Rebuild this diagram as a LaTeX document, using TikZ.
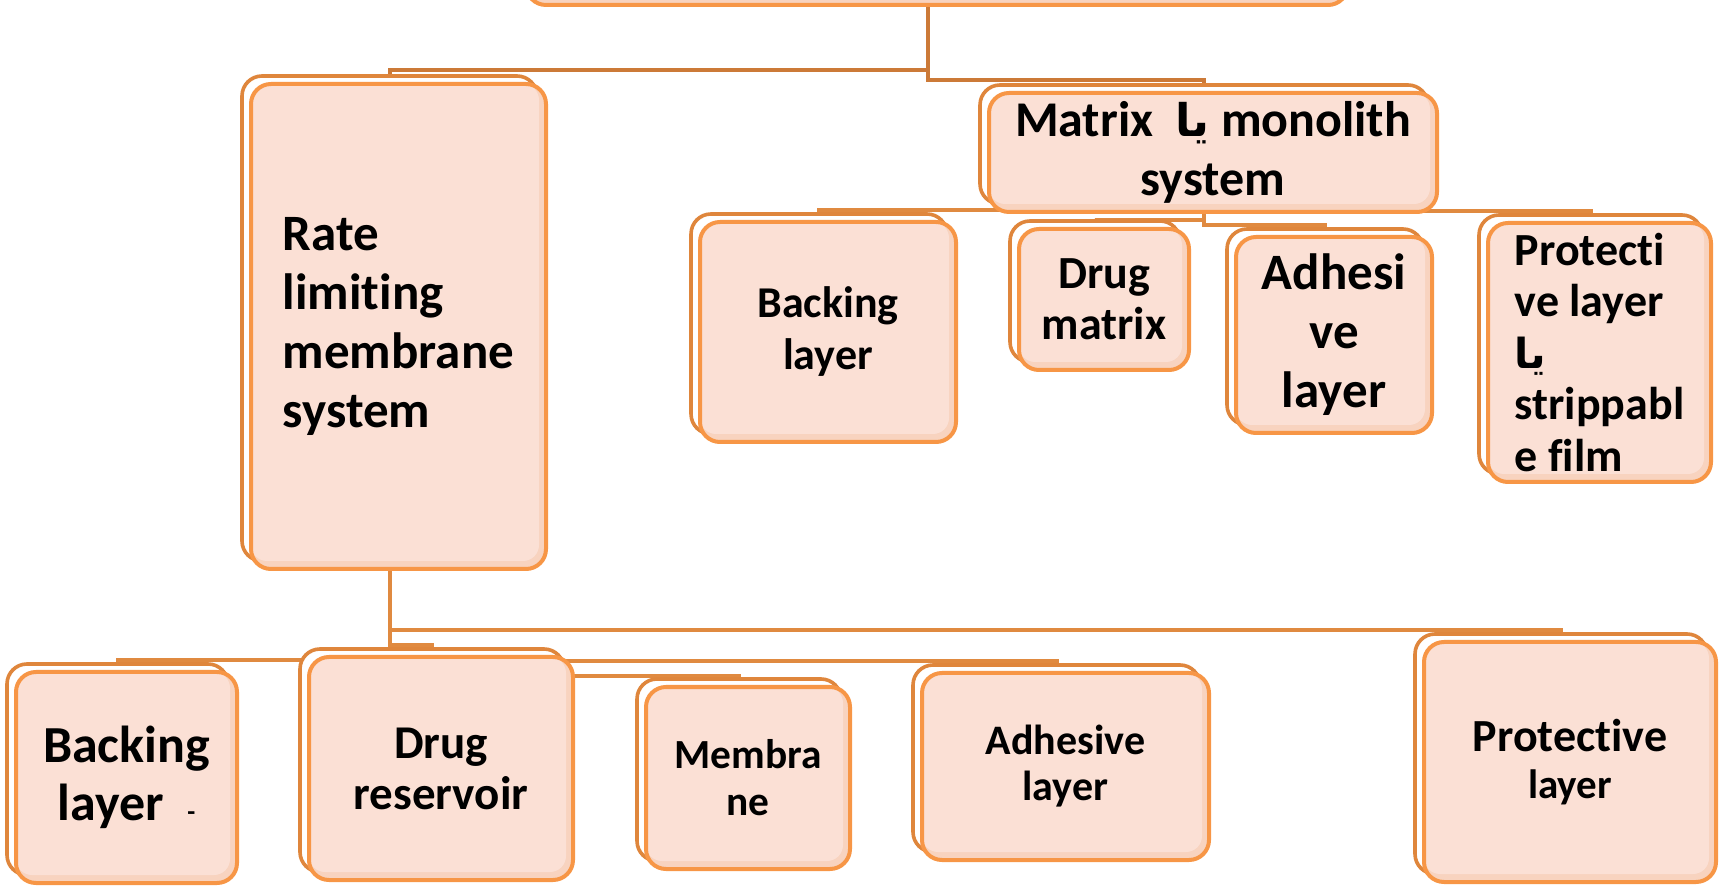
\documentclass[tikz,border=0pt]{standalone}
\usepackage{fontspec}
\setmainfont{Carlito}[Ligatures=NoCommon]
\newfontfamily\arabicfont[Script=Arabic,Scale=0.9]{DejaVu Sans}
\TeXXeTstate=1
\usetikzlibrary{shadows,backgrounds}
\definecolor{peach}{HTML}{FBE0D5}
\definecolor{peachdark}{HTML}{F8D3BF}
\definecolor{boxline}{HTML}{F79646}
\definecolor{backline}{HTML}{DF863C}
\definecolor{linkcol}{HTML}{E08A40}
\definecolor{linktopcol}{HTML}{CC7A38}
\tikzset{
  box/.style={rectangle, rounded corners=10pt, draw=boxline, line width=2pt, fill=peachdark,
    inner sep=0pt, align=center,
    path picture={\fill[peach, rounded corners=8pt]
      (path picture bounding box.north west) rectangle
      ([shift={(-3.5pt,4pt)}]path picture bounding box.south east);},
    copy shadow={shadow xshift=-4.5pt, shadow yshift=4pt, fill=white, draw=backline, line width=1.8pt}},
  txt/.style 2 args={font=\bfseries\fontsize{#1}{#2}\selectfont},
  link/.style={draw=linkcol, line width=2pt},
  linktop/.style={draw=linktopcol, line width=2pt}
}
\begin{document}
\begin{tikzpicture}[x=0.5pt,y=-0.5pt]
			\useasboundingbox (0,0) rectangle (1723,886);
			\clip (0,0) rectangle (1723,886);
			\node[box, minimum width=411pt, minimum height=60pt] (top) at (937,-55) {};
			\node[box, txt={25.5}{29.5}, align=left, minimum width=147.5pt, minimum height=242.5pt] (rate) at (398.5,326.5) {Rate\\limiting\\membrane\\system};
			\node[box, txt={25}{29.5}, minimum width=224pt, minimum height=59.5pt] (matrix) at (1213,152.5) {Matrix\ \ {\arabicfont\beginR یا\endR} monolith\\system};
			
			\node[box, txt={22}{26}, minimum width=128pt, minimum height=110pt] (mBack) at (828,332) {Backing\\layer};
			\node[box, txt={23}{25.5}, minimum width=85pt, minimum height=70.5pt] (mDrug) at (1104,299.5) {Drug\\matrix};
			\node[box, txt={25.5}{29.5}, minimum width=98pt, minimum height=98pt] (mAdh) at (1334,335) {Adhesi\\ve\\layer};
			\node[box, txt={23}{25.75}, align=left, minimum width=111.5pt, minimum height=129.5pt] (mProt) at (1599.5,352.5) {Protecti\\ve layer\\{\arabicfont\beginR یا\endR}\\strippabl\\e film};
			
			\node[box, txt={26}{29}, minimum width=110.5pt, minimum height=105.5pt] (rBack) at (126.5,777.5) {Backing\\layer\ \ {\fontsize{13}{13}\selectfont -}};
			\node[box, txt={23.5}{25.5}, minimum width=132pt, minimum height=111.5pt] (rDrug) at (441,768.5) {Drug\\reservoir};
			\node[box, txt={20.7}{23.5}, minimum width=102pt, minimum height=91pt] (rMem) at (748,778) {Membra\\ne};
			\node[box, txt={21}{23}, minimum width=143.5pt, minimum height=93.5pt] (rAdh) at (1065.5,766.5) {Adhesive\\layer};
			\node[box, txt={23}{23.5}, minimum width=146pt, minimum height=120pt] (rProt) at (1570,762) {Protective\\{\fontsize{20.5}{23.5}\selectfont layer}};
			
			\begin{pgfonlayer}{background}
				\foreach \c/\d in {rate/71, matrix/81}
					\draw[linktop] ([xshift=-4.5pt,yshift=4pt]top.south) -- ++(0,\d) -| ([xshift=-4.5pt,yshift=4pt]\c.north);
				\foreach \c/\d in {mBack/4, mDrug/14, mAdh/19, mProt/5}
					\draw[link] ([xshift=-4.5pt,yshift=4pt]matrix.south) -- ++(0,\d) -| ([xshift=-4.5pt,yshift=4pt]\c.north);
				\foreach \c/\d in {rBack/97, rDrug/82, rMem/113, rAdh/98, rProt/67}
					\draw[link] ([xshift=-4.5pt,yshift=4pt]rate.south) -- ++(0,\d) -| ([xshift=-4.5pt,yshift=4pt]\c.north);
			\end{pgfonlayer}
\end{tikzpicture}
\end{document}
